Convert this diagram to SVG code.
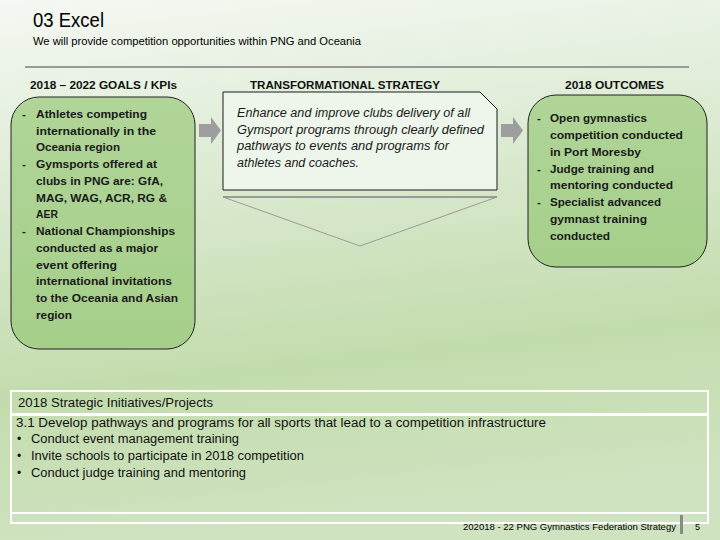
<svg xmlns="http://www.w3.org/2000/svg" width="720" height="540" viewBox="0 0 720 540">
  <defs>
    <linearGradient id="bg" x1="0" y1="0" x2="0.15" y2="1">
      <stop offset="0" stop-color="#f5f8f3"/>
      <stop offset="0.3" stop-color="#e0edd8"/>
      <stop offset="0.72" stop-color="#c3dcad"/>
      <stop offset="1" stop-color="#cfe3c0"/>
    </linearGradient>
    <linearGradient id="gbox" x1="0" y1="0" x2="0" y2="1">
      <stop offset="0" stop-color="#b0d598"/>
      <stop offset="1" stop-color="#a6cf8a"/>
    </linearGradient>
    <style>
      .t { font-family: "Liberation Sans", Arial, sans-serif; fill: #000; }
      .h { font-family: "Liberation Sans", Arial, sans-serif; font-size: 11.5px; font-weight: bold; fill: #111; }
      .b { font-family: "Liberation Sans", Arial, sans-serif; font-size: 11.5px; font-weight: bold; fill: #1a1a1a; }
      .i { font-family: "Liberation Sans", Arial, sans-serif; font-size: 12px; font-style: italic; fill: #1a1a1a; }
      .r { font-family: "Liberation Sans", Arial, sans-serif; font-size: 12px; fill: #111; }
      .gbox { fill: url(#gbox); stroke: #222; stroke-width: 1; }
      .arrow { fill: #9e9e9e; }
      .wl { stroke: #ffffff; fill: none; }
    </style>
  </defs>

  <rect x="0" y="0" width="720" height="540" fill="url(#bg)"/>

  <!-- Title -->
  <text class="t" x="33" y="27" font-size="20" textLength="71" lengthAdjust="spacingAndGlyphs">03 Excel</text>
  <text class="t" x="33" y="45" font-size="10.5" textLength="328" lengthAdjust="spacingAndGlyphs">We will provide competition opportunities within PNG and Oceania</text>
  <line x1="25" y1="67" x2="689" y2="67" stroke="#9a9a9a" stroke-width="2"/>

  <!-- Column headers -->
  <text class="h" x="30" y="89" textLength="147" lengthAdjust="spacingAndGlyphs">2018 – 2022 GOALS / KPIs</text>
  <text class="h" x="250" y="89" textLength="190" lengthAdjust="spacingAndGlyphs">TRANSFORMATIONAL STRATEGY</text>
  <text class="h" x="565" y="89" textLength="99" lengthAdjust="spacingAndGlyphs">2018 OUTCOMES</text>

  <!-- Goals node -->
  <g id="goals">
    <rect class="gbox" x="11" y="97" width="184" height="252" rx="28" ry="28"/>
    <g class="b">
      <text x="22" y="118">-</text>
      <text x="36" y="118" textLength="111" lengthAdjust="spacingAndGlyphs">Athletes competing</text>
      <text x="36" y="135" textLength="120" lengthAdjust="spacingAndGlyphs">internationally in the</text>
      <text x="36" y="151" textLength="84" lengthAdjust="spacingAndGlyphs">Oceania region</text>
      <text x="22" y="168">-</text>
      <text x="36" y="168" textLength="121" lengthAdjust="spacingAndGlyphs">Gymsports offered at</text>
      <text x="36" y="185" textLength="127" lengthAdjust="spacingAndGlyphs">clubs in PNG are:  GfA,</text>
      <text x="36" y="202" textLength="131" lengthAdjust="spacingAndGlyphs">MAG, WAG, ACR, RG &amp;</text>
      <text x="36" y="218" textLength="22" lengthAdjust="spacingAndGlyphs">AER</text>
      <text x="22" y="235">-</text>
      <text x="36" y="235" textLength="139" lengthAdjust="spacingAndGlyphs">National Championships</text>
      <text x="36" y="252" textLength="122" lengthAdjust="spacingAndGlyphs">conducted as a major</text>
      <text x="36" y="269" textLength="81" lengthAdjust="spacingAndGlyphs">event offering</text>
      <text x="36" y="285" textLength="136" lengthAdjust="spacingAndGlyphs">international invitations</text>
      <text x="36" y="302" textLength="142" lengthAdjust="spacingAndGlyphs">to the Oceania and Asian</text>
      <text x="36" y="319" textLength="36" lengthAdjust="spacingAndGlyphs">region</text>
    </g>
  </g>

  <!-- Strategy node -->
  <g id="strategy">
    <path d="M223,92 H480 L497,109 V190 H223 Z" fill="#eef5ea" stroke="#1a1a1a" stroke-width="1"/>
    <g class="i">
      <text x="237" y="117" textLength="233" lengthAdjust="spacingAndGlyphs">Enhance and improve clubs delivery of all</text>
      <text x="237" y="134" textLength="247" lengthAdjust="spacingAndGlyphs">Gymsport programs through clearly defined</text>
      <text x="237" y="150" textLength="212" lengthAdjust="spacingAndGlyphs">pathways to events and programs for</text>
      <text x="237" y="167" textLength="122" lengthAdjust="spacingAndGlyphs">athletes and coaches.</text>
    </g>
  </g>

  <!-- Down triangle -->
  <g id="funnel">
    <polygon points="223,197 497,197 360,246" fill="none" stroke="#9a9a9a" stroke-width="1"/>
    <line x1="223" y1="197" x2="497" y2="197" stroke="#8f8f8f" stroke-width="1.5"/>
  </g>

  <!-- Outcomes node -->
  <g id="outcomes">
    <rect class="gbox" x="528" y="95" width="179" height="172" rx="28" ry="28"/>
    <g class="b">
      <text x="537" y="122">-</text>
      <text x="550" y="122" textLength="97" lengthAdjust="spacingAndGlyphs">Open gymnastics</text>
      <text x="550" y="139" textLength="133" lengthAdjust="spacingAndGlyphs">competition conducted</text>
      <text x="550" y="156" textLength="91" lengthAdjust="spacingAndGlyphs">in Port Moresby</text>
      <text x="537" y="173">-</text>
      <text x="550" y="173" textLength="104" lengthAdjust="spacingAndGlyphs">Judge training and</text>
      <text x="550" y="189" textLength="123" lengthAdjust="spacingAndGlyphs">mentoring conducted</text>
      <text x="537" y="206">-</text>
      <text x="550" y="206" textLength="111" lengthAdjust="spacingAndGlyphs">Specialist advanced</text>
      <text x="550" y="223" textLength="97" lengthAdjust="spacingAndGlyphs">gymnast training</text>
      <text x="550" y="240" textLength="60" lengthAdjust="spacingAndGlyphs">conducted</text>
    </g>
  </g>

  <!-- Connectors -->
  <g id="connectors">
    <polygon class="arrow" points="199,124 211,124 211,117 221,130.5 211,144 211,137 199,137"/>
    <polygon class="arrow" points="501,124 513,124 513,117 523,130.5 513,144 513,137 501,137"/>
  </g>

  <!-- Initiatives table -->
  <g id="initiatives">
    <rect x="11" y="391" width="697" height="132" class="wl" stroke-width="2"/>
    <line x1="11" y1="414.5" x2="708" y2="414.5" class="wl" stroke-width="3"/>
    <line x1="11" y1="513" x2="708" y2="513" class="wl" stroke-width="2"/>
    <text class="r" x="18" y="407" textLength="195" lengthAdjust="spacingAndGlyphs">2018 Strategic Initiatives/Projects</text>
    <text class="r" x="16" y="427" textLength="530" lengthAdjust="spacingAndGlyphs">3.1  Develop pathways and programs for all sports that lead to a competition infrastructure</text>
    <text class="r" x="17" y="443">•</text>
    <text class="r" x="31" y="443" textLength="208" lengthAdjust="spacingAndGlyphs">Conduct event management training</text>
    <text class="r" x="17" y="460">•</text>
    <text class="r" x="31" y="460" textLength="273" lengthAdjust="spacingAndGlyphs">Invite schools to participate in 2018 competition</text>
    <text class="r" x="17" y="477">•</text>
    <text class="r" x="31" y="477" textLength="215" lengthAdjust="spacingAndGlyphs">Conduct judge training and mentoring</text>
  </g>

  <!-- Footer -->
  <g id="footer">
    <text class="t" x="463" y="530" font-size="9" fill="#222" textLength="213" lengthAdjust="spacingAndGlyphs">202018 - 22 PNG Gymnastics Federation Strategy</text>
    <rect x="680" y="515" width="3" height="19" fill="#8a8a8a"/>
    <text class="t" x="695" y="530" font-size="9" fill="#222">5</text>
  </g>
</svg>
